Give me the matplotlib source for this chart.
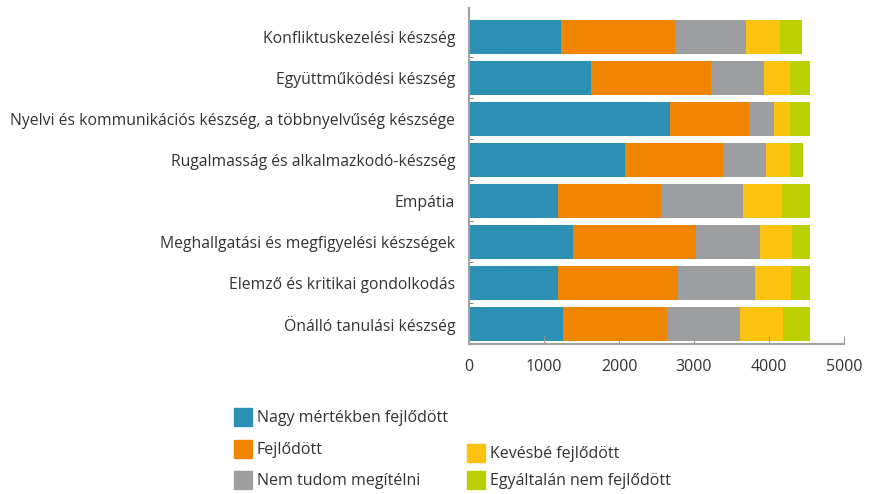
import matplotlib.pyplot as plt
from matplotlib.patches import Rectangle
import numpy as np

plt.rcParams['font.family'] = ['Open Sans', 'DejaVu Sans']

skills = ['Konfliktuskezelési készség',
          'Együttműködési készség',
          'Nyelvi és kommunikációs készség, a többnyelvűség készsége',
          'Rugalmasság és alkalmazkodó-készség',
          'Empátia',
          'Meghallgatási és megfigyelési készségek',
          'Elemző és kritikai gondolkodás',
          'Önálló tanulási készség']

nagy = [1227, 1627, 2680, 2080, 1187, 1387, 1187, 1253]
fejl = [1520, 1600, 1053, 1307, 1377, 1640, 1600, 1387]
nemtudom = [946, 706, 334, 573, 1089, 853, 1026, 973]
kevesbe = [454, 347, 213, 320, 520, 427, 480, 574]
egyaltalan = [293, 267, 267, 173, 374, 240, 254, 360]

series = [('Nagy mértékben fejlődött', nagy, '#2B90B3'),
          ('Fejlődött', fejl, '#EF8500'),
          ('Nem tudom megítélni', nemtudom, '#9D9EA0'),
          ('Kevésbé fejlődött', kevesbe, '#FBC30F'),
          ('Egyáltalán nem fejlődött', egyaltalan, '#BCCF00')]

W, H = 869, 494
fig = plt.figure(figsize=(W / 100, H / 100), dpi=100)
ax = fig.add_axes([469 / W, 1 - 344 / H, 375 / W, 336 / H])

y = np.arange(len(skills))
left = np.zeros(len(skills))
for name, vals, col in series:
    ax.barh(y, vals, left=left, height=0.83, color=col, label=name)
    left += np.array(vals)

ax.set_xlim(0, 5000)
ax.set_ylim(7.5, -0.7)
ax.set_xticks([0, 1000, 2000, 3000, 4000, 5000])
ax.set_yticks(y)
ax.set_yticklabels(skills)
ax.set_yticks(np.arange(0.5, 7, 1), minor=True)
ax.tick_params(axis='y', which='major', length=0, pad=10, labelsize=11.3, labelcolor='#333333')
ax.tick_params(axis='y', which='minor', length=3, direction='in', color='#666666')
ax.tick_params(axis='x', length=6, direction='in', color='#999999', pad=11,
               labelsize=11.5, labelcolor='#333333')
for s in ['top', 'right']:
    ax.spines[s].set_visible(False)
for s in ['left', 'bottom']:
    ax.spines[s].set_color('#A0A0A0')
    ax.spines[s].set_linewidth(1.5)

# legend built by hand, two columns
pos = [(234, 408), (234, 440), (234, 471), (467, 444), (467, 471)]
for (name, vals, col), (px, py) in zip(series, pos):
    fig.add_artist(Rectangle((px / W, 1 - (py + 18) / H), 18 / W, 18 / H,
                             transform=fig.transFigure, color=col))
    fig.text((px + 23) / W, 1 - (py + 10) / H, name, fontsize=11.5,
             color='#333333', va='center', ha='left')

fig.savefig('out.png', dpi=100)
